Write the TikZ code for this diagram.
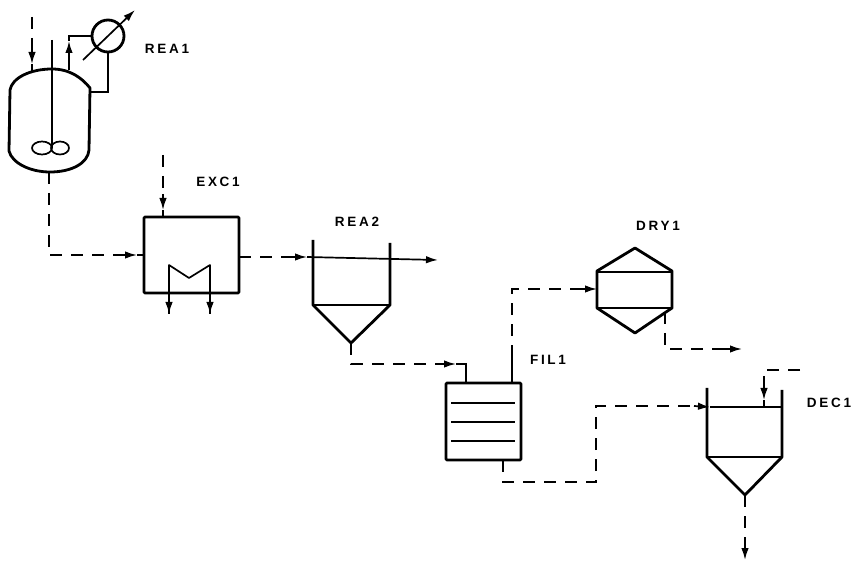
\documentclass[tikz,border=0pt]{standalone}
\usepackage{fontspec}
\usepackage{tikz}
\usetikzlibrary{arrows.meta}
\newfontfamily\tagfont[LetterSpace=20]{Liberation Sans Bold}
\begin{document}
\begin{tikzpicture}[
    x=1pt, y=-1pt,
    vessel/.style={line width=2.8pt, line join=round},
    inner/.style={line width=1.5pt},
    equip/.style={draw, vessel, rectangle, rounded corners=1pt, inner sep=0pt, outer sep=0pt},
    pipe/.style={line width=1.7pt},
    stream/.style={line width=1.8pt, dash pattern=on 12pt off 9pt},
    arrow/.style={-{Latex[length=12pt,width=7.5pt]}, line width=1.7pt},
    tagname/.style={font=\tagfont\fontsize{13.5}{15}\selectfont, inner sep=0pt}
]
    \useasboundingbox (0,0) rectangle (860,561);

    % Tags
    \node[tagname] (tagrea1) at (167,49) {REA1};
    \node[tagname] (tagexc1) at (218,182) {EXC1};
    \node[tagname] (tagrea2) at (357,222) {REA2};
    \node[tagname] (tagdry1) at (658,226) {DRY1};
    \node[tagname] (tagfil1) at (548,360) {FIL1};
    \node[tagname] (tagdec1) at (829,403) {DEC1};

    % Reactor with stirrer
    \draw[vessel] (52,69) .. controls (30,69) and (12,78) .. (10,90) -- (9,151)
        .. controls (12,163) and (30,172) .. (50,172) .. controls (72,172) and (88,163) .. (89,150)
        -- (90,88) .. controls (82,78) and (70,69) .. (52,69) -- cycle;
    \coordinate (shafttop) at (52,40);
    \coordinate (shaftend) at (52,148);
    \draw[pipe] (shafttop) -- (shaftend);
    \draw[pipe] (42,148) ellipse (10pt and 6.5pt);
    \draw[pipe] (60,148) ellipse (9pt and 6.5pt);

    % Condenser
    \node[equip, circle, minimum size=32pt] (cond) at (108,36) {};
    \coordinate (adjlow) at (83,60);
    \coordinate (adjtop) at (135,10);
    \draw[arrow] (adjlow) -- (adjtop);
    \coordinate (vapour) at (69,70);
    \coordinate (vapourtip) at (69,41);
    \coordinate (refluxin) at (90,92);
    \draw[arrow] (vapour) -- (vapourtip);
    \draw[pipe] (vapourtip) |- (cond.west);
    \draw[pipe] (cond.south) |- (refluxin);

    % Heat exchanger
    \node[equip, minimum width=95pt, minimum height=76pt] (exc) at (191.5,255) {};
    \coordinate (coilL) at (169,265);
    \coordinate (coilM) at (189,278);
    \coordinate (coilR) at (210,265);
    \coordinate (coilLout) at (169,314);
    \coordinate (coilRout) at (210,314);
    \draw[pipe, line join=round] (coilLout) -- (coilL) -- (coilM) -- (coilR) -- (coilRout);
    \draw[arrow] (exc.south -| coilL) -- (coilLout);
    \draw[arrow] (exc.south -| coilR) -- (coilRout);

    % Second reactor
    \coordinate (rea2L) at (313,305);
    \coordinate (rea2R) at (390,305);
    \coordinate (rea2tip) at (351,343);
    \draw[vessel] (313,240) -- (rea2L) -- (rea2tip) -- (rea2R) -- (390,243);
    \draw[inner] (rea2L) -- (rea2R);

    % Filter
    \node[equip, minimum width=75pt, minimum height=77pt] (fil) at (483.5,421.5) {};
    \foreach \y in {403,422,441}
        \draw[inner] (451,\y) -- (515,\y);

    % Dryer
    \draw[vessel] (635,248) -- (672,271) -- (672,308) -- (635,333) -- (597,308) -- (597,271) -- cycle;
    \draw[inner] (597,272) -- (672,272);
    \draw[inner] (597,308) -- (672,308);

    % Decanter
    \coordinate (decL) at (707,457);
    \coordinate (decR) at (782,457);
    \coordinate (dectip) at (745,495);
    \draw[vessel] (707,388) -- (decL) -- (dectip) -- (decR) -- (782,390);
    \draw[inner] (decL) -- (decR);

    % Feeds
    \coordinate (feed1) at (32,17);
    \coordinate (feed1tip) at (32,64);
    \coordinate (feed1end) at (32,71);
    \draw[stream] (feed1) -- (32,48);
    \draw[arrow] (32,48) -- (feed1tip);
    \draw[pipe] (feed1tip) -- (feed1end);
    \coordinate (feed2) at (163,155);
    \coordinate (feed2tip) at (163,210);
    \draw[stream] (feed2) -- (163,194);
    \draw[arrow] (163,194) -- (feed2tip);
    \draw[pipe] (feed2tip) -- (exc.north -| feed2tip);

    % Reactor to exchanger
    \coordinate (rea1out) at (49,172);
    \coordinate (excintip) at (137,255);
    \draw[stream] (rea1out) |- (122,255);
    \draw[arrow] (122,255) -- (excintip);
    \draw[pipe] (excintip) -- (exc.west |- excintip);

    % Exchanger to second reactor
    \coordinate (rea2intip) at (307,257);
    \coordinate (rea2outtip) at (438,260);
    \draw[stream] (exc.east |- rea2intip) -- (292,257);
    \draw[arrow] (292,257) -- (rea2intip);
    \draw[arrow] (rea2intip) -- (rea2outtip);

    % Second reactor to filter
    \coordinate (filin) at (466,383);
    \coordinate (filintip) at (456,364);
    \coordinate (filbend) at (466,364);
    \draw[stream] (rea2tip) |- (441,364);
    \draw[arrow] (441,364) -- (filintip);
    \draw[pipe] (filintip) -- (filbend) -- (filin);

    % Filter to dryer
    \coordinate (filtop) at (512,383);
    \coordinate (dryintip) at (597,289);
    \draw[pipe] (filtop) -- (512,357);
    \draw[stream] (512,357) |- (580,289);
    \draw[arrow] (580,289) -- (dryintip);

    % Dryer outlet
    \coordinate (dryout) at (665,312);
    \coordinate (dryouttip) at (742,349);
    \draw[stream] (dryout) |- (722,349);
    \draw[arrow] (722,349) -- (dryouttip);

    % Filter to decanter
    \coordinate (filbot) at (503,460);
    \coordinate (filvia) at (596,482);
    \coordinate (decintip) at (710,407);
    \draw[stream] (filbot) |- (filvia) |- (694,406);
    \draw[arrow] (694,406) -- (decintip);
    \draw[inner] (decintip) -- (782,407);

    % Decanter feed and outlet
    \coordinate (feed3) at (800,370);
    \coordinate (feed3tip) at (764,400);
    \draw[stream] (feed3) -| (764,384);
    \draw[arrow] (764,384) -- (feed3tip);
    \draw[pipe] (feed3tip) -- (764,407);
    \coordinate (decouttip) at (745,560);
    \draw[stream] (dectip) -- (745,540);
    \draw[arrow] (745,540) -- (decouttip);
\end{tikzpicture}
\end{document}
